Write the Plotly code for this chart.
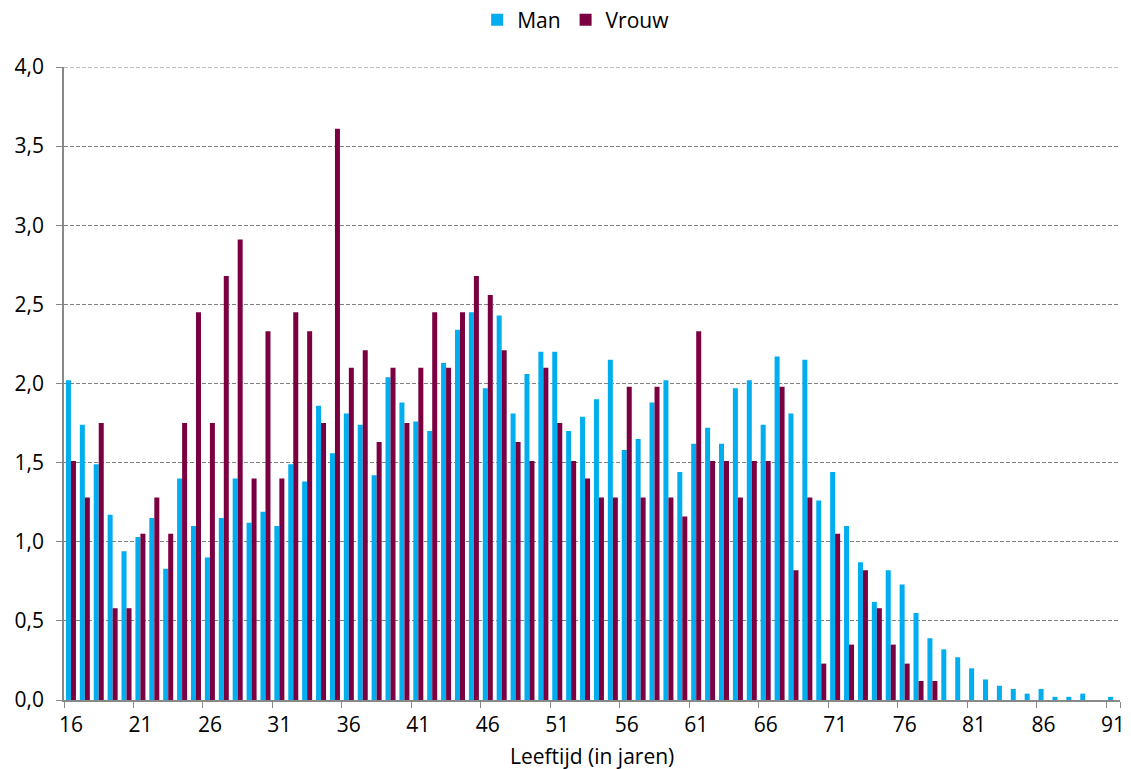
import plotly.graph_objects as go

ages = [str(a) for a in range(16, 92)]

man = [2.02, 1.74, 1.49, 1.17, 0.94, 1.03, 1.15, 0.83, 1.40, 1.10,
       0.90, 1.15, 1.40, 1.12, 1.19, 1.10, 1.49, 1.38, 1.86, 1.56,
       1.81, 1.74, 1.42, 2.04, 1.88, 1.76, 1.70, 2.13, 2.34, 2.45,
       1.97, 2.43, 1.81, 2.06, 2.20, 2.20, 1.70, 1.79, 1.90, 2.15,
       1.58, 1.65, 1.88, 2.02, 1.44, 1.62, 1.72, 1.62, 1.97, 2.02,
       1.74, 2.17, 1.81, 2.15, 1.26, 1.44, 1.10, 0.87, 0.62, 0.82,
       0.73, 0.55, 0.39, 0.32, 0.27, 0.20, 0.13, 0.09, 0.07, 0.04,
       0.07, 0.02, 0.02, 0.04, 0.00, 0.02]

vrouw = [1.51, 1.28, 1.75, 0.58, 0.58, 1.05, 1.28, 1.05, 1.75, 2.45,
         1.75, 2.68, 2.91, 1.40, 2.33, 1.40, 2.45, 2.33, 1.75, 3.61,
         2.10, 2.21, 1.63, 2.10, 1.75, 2.10, 2.45, 2.10, 2.45, 2.68,
         2.56, 2.21, 1.63, 1.51, 2.10, 1.75, 1.51, 1.40, 1.28, 1.28,
         1.98, 1.28, 1.98, 1.28, 1.16, 2.33, 1.51, 1.51, 1.28, 1.51,
         1.51, 1.98, 0.82, 1.28, 0.23, 1.05, 0.35, 0.82, 0.58, 0.35,
         0.23, 0.12, 0.12, 0.00, 0.00, 0.00, 0.00, 0.00, 0.00, 0.00,
         0.00, 0.00, 0.00, 0.00, 0.00, 0.00]

tick_labels = [str(a) for a in range(16, 92, 5)]
y_ticks = [0, 0.5, 1.0, 1.5, 2.0, 2.5, 3.0, 3.5, 4.0]
y_max = 4.0
x_title = "Leeftijd (in jaren)"

FONT = "Open Sans"
FS = 21
GRID = "#808080"
DASH = "4px,2px"

fig = go.Figure()
fig.add_trace(go.Bar(name="Man", x=ages, y=man, marker_color="#00AEEF",
                     marker_line_width=0))
fig.add_trace(go.Bar(name="Vrouw", x=ages, y=vrouw, marker_color="#7A0041",
                     marker_line_width=0))

# top gridline at the range edge (Plotly omits the grid line at the very edge)
fig.add_shape(type="line", xref="paper", x0=0, x1=1, yref="y", y0=y_max, y1=y_max,
              line=dict(color=GRID, width=1, dash=DASH), layer="below")

# x-axis title placed as annotation so it does not shrink the plot area
fig.add_annotation(text=x_title, xref="paper", x=0.5, yref="paper", y=-0.088,
                   xanchor="center", yanchor="middle", showarrow=False,
                   font=dict(size=FS, family=FONT, color="#000000"))

fig.update_layout(
    width=1131, height=769,
    margin=dict(l=64, r=11, t=67, b=69, autoexpand=False),
    paper_bgcolor="white", plot_bgcolor="white",
    barmode="group", bargap=0.28, bargroupgap=0.0,
    separators=",.",
    font=dict(family=FONT, size=FS, color="#000000"),
    legend=dict(orientation="h", x=0.485, xanchor="center",
                yref="container", y=0.974, yanchor="middle",
                font=dict(size=FS), traceorder="normal",
                itemwidth=30, tracegroupgap=0),
    showlegend=True,
)

fig.update_xaxes(
    type="category", tickmode="array", tickvals=tick_labels, ticktext=tick_labels,
    tickson="boundaries", ticks="outside", ticklen=6, tickcolor="#888888",
    tickangle=0, ticklabelstandoff=5, automargin=False,
    showline=True, linecolor="#888888", linewidth=1.5,
    showgrid=False, range=[-0.5, 75.5],
    tickfont=dict(size=FS),
)
fig.update_yaxes(
    range=[0, y_max], tickmode="array", tickvals=y_ticks, tickformat=".1f",
    ticks="outside", ticklen=6, tickcolor="#888888", ticklabelstandoff=8,
    automargin=False,
    showline=True, linecolor="#888888", linewidth=1.5,
    showgrid=True, gridcolor=GRID, griddash=DASH, gridwidth=1,
    zeroline=False, tickfont=dict(size=FS),
)

fig.write_html("out.html", config={"displayModeBar": False},
               post_script="document.body.style.margin='0';")
